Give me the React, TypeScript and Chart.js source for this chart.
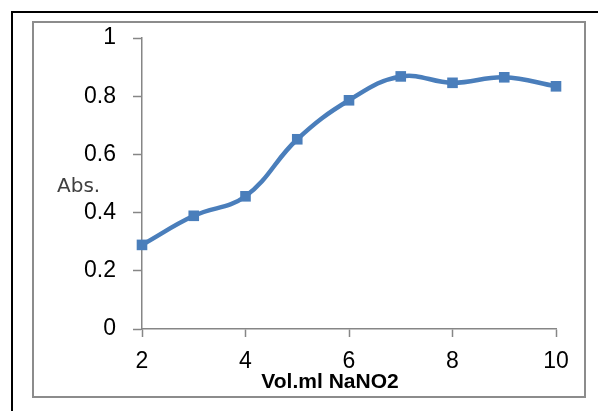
import React, { useEffect, useRef } from "react";
import { Chart, registerables } from "chart.js";

Chart.register(...registerables);

const volumes = [2, 3, 4, 5, 6, 7, 8, 9, 10];
const absorbance = [0.289, 0.389, 0.456, 0.652, 0.786, 0.868, 0.846, 0.865, 0.834];
const xTicks = [2, 4, 6, 8, 10];
const yTicks = [0, 0.2, 0.4, 0.6, 0.8, 1];
const xTitle = "Vol.ml NaNO2";
const yTitle = "Abs.";

const framePlugin = {
  id: "frame",
  beforeDraw(chart: any) {
    const ctx = chart.ctx;
    ctx.save();
    ctx.fillStyle = "#ffffff";
    ctx.fillRect(0, 0, chart.width, chart.height);
    ctx.strokeStyle = "#000000";
    ctx.lineWidth = 2;
    ctx.beginPath();
    ctx.moveTo(12, chart.height + 5);
    ctx.lineTo(12, 12);
    ctx.lineTo(chart.width + 5, 12);
    ctx.stroke();
    ctx.strokeStyle = "#8c8c8c";
    ctx.lineWidth = 2;
    ctx.strokeRect(33, 22, 552, 375);
    ctx.restore();
  },
  afterDraw(chart: any) {
    const ctx = chart.ctx;
    ctx.save();
    ctx.fillStyle = "#404040";
    ctx.font = "20px 'DejaVu Sans'";
    ctx.textAlign = "left";
    ctx.textBaseline = "alphabetic";
    ctx.fillText(yTitle, 57, 192);
    ctx.fillStyle = "#000000";
    ctx.font = "bold 21px 'Liberation Sans'";
    ctx.textAlign = "center";
    ctx.fillText(xTitle, 330, 388);
    ctx.restore();
  },
};

export default function App() {
  const ref = useRef<HTMLCanvasElement | null>(null);
  useEffect(() => {
    if (!ref.current) return;
    const chart = new Chart(ref.current, {
      type: "line",
      data: {
        datasets: [
          {
            data: volumes.map((v, i) => ({ x: v, y: absorbance[i] })),
            borderColor: "#4a7ebb",
            backgroundColor: "#4a7ebb",
            borderWidth: 4.5,
            tension: 0.4,
            pointStyle: "rect",
            pointRadius: 7.5,
            pointHoverRadius: 7.5,
            pointBorderWidth: 0,
            clip: false as any,
          },
        ],
      },
      options: {
        animation: false,
        responsive: false,
        events: [],
        layout: { padding: { left: 0, right: 42, top: 38, bottom: 0 } },
        plugins: { legend: { display: false }, tooltip: { enabled: false } },
        scales: {
          x: {
            type: "linear",
            min: 2,
            max: 10,
            afterBuildTicks: (s: any) => {
              s.ticks = xTicks.map((v) => ({ value: v }));
            },
            afterFit: (s: any) => {
              s.height = 411 - 329;
            },
            grid: { drawOnChartArea: false, drawTicks: true, tickLength: 8, color: "#868686", tickWidth: 1.5 },
            border: { color: "#868686", width: 1.5 },
            ticks: { color: "#000000", font: { family: "'Liberation Sans'", size: 23 }, padding: 11, maxRotation: 0 },
          },
          y: {
            type: "linear",
            min: 0,
            max: 1,
            afterBuildTicks: (s: any) => {
              s.ticks = yTicks.map((v) => ({ value: v }));
            },
            afterFit: (s: any) => {
              s.width = 142;
            },
            grid: { drawOnChartArea: false, drawTicks: true, tickLength: 9, color: "#868686", tickWidth: 1.5 },
            border: { color: "#868686", width: 1.5 },
            ticks: {
              color: "#000000",
              font: { family: "'Liberation Sans'", size: 23 },
              padding: 17,
              callback: (v: any) => String(v),
            },
          },
        },
      },
      plugins: [framePlugin],
    });
    return () => chart.destroy();
  }, []);
  return (
    <div style={{ position: "fixed", left: 0, top: 0, width: 598, height: 411, background: "#fff" }}>
      <canvas ref={ref} width={598} height={411} style={{ display: "block" }} />
    </div>
  );
}
